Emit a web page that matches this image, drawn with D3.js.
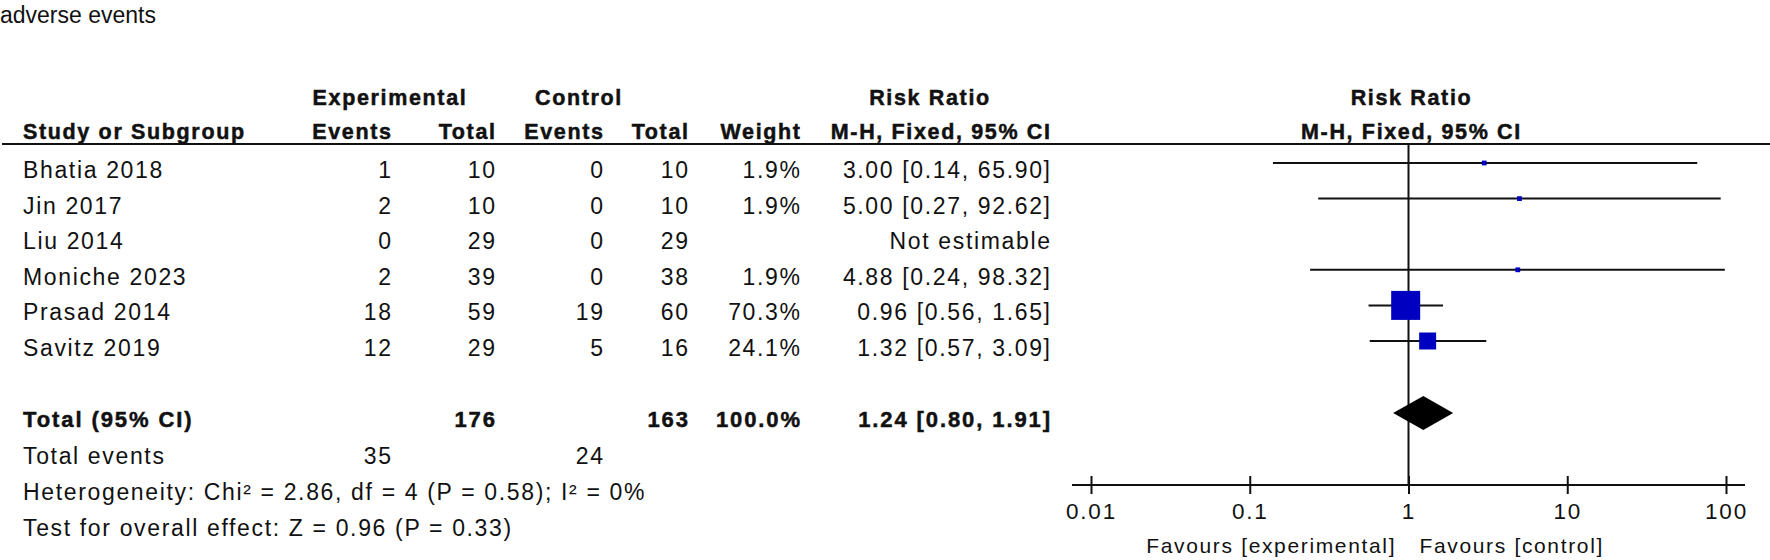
<!DOCTYPE html>
<html>
<head>
<meta charset="utf-8">
<script src="https://cdn.jsdelivr.net/npm/d3@7"></script>
<style>
  body { margin: 0; background: #fff; }
  svg text { font-family: "Liberation Sans", Arial, sans-serif; fill: #111; }
</style>
</head>
<body>
<svg id="chart" width="1770" height="560"></svg>
<script>
// data
var studies   = ["Bhatia 2018", "Jin 2017", "Liu 2014", "Moniche 2023", "Prasad 2014", "Savitz 2019"];
var expEvents = [1, 2, 0, 2, 18, 12];
var expTotal  = [10, 10, 29, 39, 59, 29];
var ctlEvents = [0, 0, 0, 0, 19, 5];
var ctlTotal  = [10, 10, 29, 38, 60, 16];
var weights   = [1.9, 1.9, null, 1.9, 70.3, 24.1];
var rr        = [3.00, 5.00, null, 4.88, 0.96, 1.32];
var rrLow     = [0.14, 0.27, null, 0.24, 0.56, 0.57];
var rrHigh    = [65.90, 92.62, null, 98.32, 1.65, 3.09];

var totalExp = 176, totalCtl = 163, totalWeight = 100.0;
var totalRR = 1.24, totalLow = 0.80, totalHigh = 1.91;
var totalExpEvents = 35, totalCtlEvents = 24;
var heterogeneity = "Heterogeneity: Chi\u00b2 = 2.86, df = 4 (P = 0.58); I\u00b2 = 0%";
var overallEffect = "Test for overall effect: Z = 0.96 (P = 0.33)";
var tickValues = [0.01, 0.1, 1, 10, 100];

(function () {
    var svg = d3.select("#chart");
    var BODY = 23, BOLD = 21.5, LS = 1.65;

    var colX = {expE: 391, expT: 495, ctlE: 603, ctlT: 688, wt: 800, ci: 1050};
    var studyX = 23;

    var x = d3.scaleLog().domain([0.01, 100]).range([1091, 1726]);
    var y = d3.scalePoint().domain(studies).range([163, 341]);
    var size = d3.scaleSqrt().domain([0, 70.3]).range([0, 29]);
    var totalY = 413, axisY = 485;

    var fmt2 = d3.format(".2f");
    var ciText = function (m, l, h) { return fmt2(m) + " [" + fmt2(l) + ", " + fmt2(h) + "]"; };

    var txt = function (sx, sy, s, opt) {
        opt = opt || {};
        var anchor = opt.anchor || "start";
        var ls = opt.ls == null ? LS : opt.ls;
        var t = svg.append("text")
            .attr("x", anchor === "end" ? sx + ls : sx)
            .attr("y", sy)
            .attr("text-anchor", anchor)
            .attr("font-size", opt.size || BODY)
            .attr("font-weight", opt.bold ? "bold" : "normal")
            .attr("letter-spacing", ls)
            .text(s);
        if (opt.heavy) t.attr("stroke", "#111").attr("stroke-width", 0.5);
        return t;
    };

    // title
    txt(0, 23, "adverse events", {size: 23, ls: 0});

    // headers
    var hb = {bold: true, heavy: true, size: BOLD};
    var h = function (o) { return Object.assign({}, hb, o); };
    txt(390, 105, "Experimental", h({anchor: "middle"}));
    txt(579, 105, "Control", h({anchor: "middle"}));
    txt(930, 105, "Risk Ratio", h({anchor: "middle"}));
    txt(x(1) + 3, 105, "Risk Ratio", h({anchor: "middle"}));
    txt(studyX, 139, "Study or Subgroup", hb);
    txt(colX.expE, 139, "Events", h({anchor: "end"}));
    txt(colX.expT, 139, "Total", h({anchor: "end"}));
    txt(colX.ctlE, 139, "Events", h({anchor: "end"}));
    txt(colX.ctlT, 139, "Total", h({anchor: "end"}));
    txt(colX.wt, 139, "Weight", h({anchor: "end"}));
    txt(colX.ci, 139, "M-H, Fixed, 95% CI", h({anchor: "end"}));
    txt(x(1) + 3, 139, "M-H, Fixed, 95% CI", h({anchor: "middle"}));

    svg.append("line")
        .attr("x1", 2).attr("x2", 1770).attr("y1", 144).attr("y2", 144)
        .attr("stroke", "#111").attr("stroke-width", 2);

    // study rows
    studies.forEach(function (s, i) {
        var by = y(s) + 15;
        txt(studyX, by, s);
        txt(colX.expE, by, expEvents[i], {anchor: "end"});
        txt(colX.expT, by, expTotal[i], {anchor: "end"});
        txt(colX.ctlE, by, ctlEvents[i], {anchor: "end"});
        txt(colX.ctlT, by, ctlTotal[i], {anchor: "end"});
        if (weights[i] != null) txt(colX.wt, by, weights[i].toFixed(1) + "%", {anchor: "end"});
        txt(colX.ci, by, rr[i] == null ? "Not estimable" : ciText(rr[i], rrLow[i], rrHigh[i]), {anchor: "end"});
    });

    // total rows
    var tb = totalY + 14;
    var bb = {bold: true, heavy: true, size: 22, ls: 1.9};
    var b = function (o) { return Object.assign({}, bb, o); };
    txt(studyX, tb, "Total (95% CI)", bb);
    txt(colX.expT, tb, totalExp, b({anchor: "end"}));
    txt(colX.ctlT, tb, totalCtl, b({anchor: "end"}));
    txt(colX.wt, tb, totalWeight.toFixed(1) + "%", b({anchor: "end"}));
    txt(colX.ci, tb, ciText(totalRR, totalLow, totalHigh), b({anchor: "end"}));

    txt(studyX, 464, "Total events");
    txt(colX.expE, 464, totalExpEvents, {anchor: "end"});
    txt(colX.ctlE, 464, totalCtlEvents, {anchor: "end"});
    txt(studyX, 500, heterogeneity);
    txt(studyX, 536, overallEffect);

    // plot: line of no effect
    svg.append("line")
        .attr("x1", x(1)).attr("x2", x(1)).attr("y1", 144).attr("y2", axisY)
        .attr("stroke", "#111").attr("stroke-width", 2);

    var idx = d3.range(studies.length).filter(function (i) { return rr[i] != null; });
    var plot = svg.append("g");
    plot.selectAll("line.ci").data(idx).enter().append("line")
        .attr("class", "ci")
        .attr("x1", function (i) { return x(rrLow[i]); })
        .attr("x2", function (i) { return x(rrHigh[i]); })
        .attr("y1", function (i) { return y(studies[i]); })
        .attr("y2", function (i) { return y(studies[i]); })
        .attr("stroke", "#111").attr("stroke-width", 2);
    plot.selectAll("rect.sq").data(idx).enter().append("rect")
        .attr("class", "sq")
        .attr("x", function (i) { return x(rr[i]) - size(weights[i]) / 2; })
        .attr("y", function (i) { return y(studies[i]) - size(weights[i]) / 2; })
        .attr("width", function (i) { return size(weights[i]); })
        .attr("height", function (i) { return size(weights[i]); })
        .attr("fill", "#0000c0");

    // diamond for the pooled estimate
    plot.append("path")
        .attr("d", d3.line()([
            [x(totalLow), totalY], [x(totalRR), totalY - 17],
            [x(totalHigh), totalY], [x(totalRR), totalY + 17]
        ]) + "Z")
        .attr("fill", "#000");

    // axis
    var axis = svg.append("g")
        .attr("transform", "translate(0," + axisY + ")")
        .call(d3.axisBottom(x).tickValues(tickValues).tickFormat(function (d) { return String(d); }).tickSize(9).tickPadding(9));
    axis.select(".domain").remove();
    axis.append("line")
        .attr("x1", x(0.01) - 19).attr("x2", x(100) + 19)
        .attr("stroke", "#111").attr("stroke-width", 2);
    axis.selectAll(".tick line").attr("y1", -9).attr("y2", 9).attr("stroke", "#111").attr("stroke-width", 2);
    axis.selectAll(".tick text")
        .attr("font-family", "Liberation Sans, Arial, sans-serif")
        .attr("font-size", 22.5).attr("letter-spacing", 1.8).attr("fill", "#111");

    txt(x(1) - 14, 553, "Favours [experimental]", {anchor: "end", size: 21});
    txt(x(1) + 11, 553, "Favours [control]", {size: 21});
})();
</script>
</body>
</html>
